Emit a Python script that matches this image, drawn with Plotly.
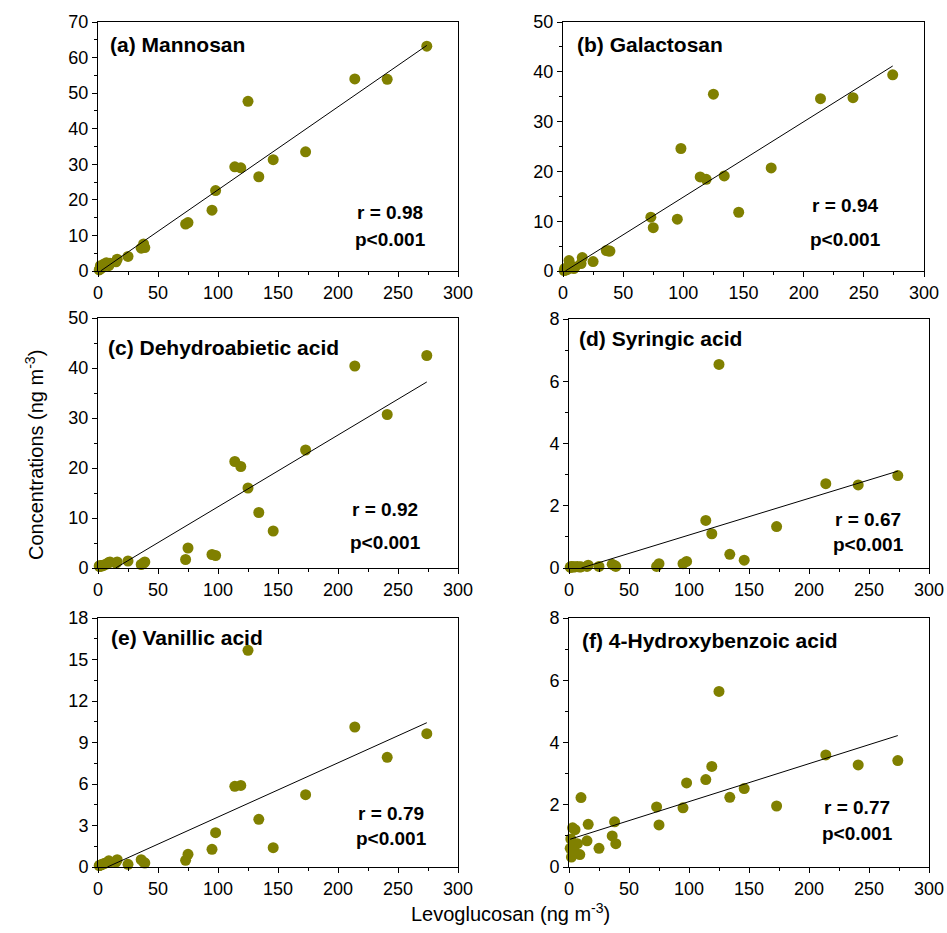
import plotly.graph_objects as go

# Shared x: Levoglucosan (ng m-3)
levoglucosan = [274, 241, 214, 173, 146, 134, 125, 119, 114, 98, 95, 75, 73, 39, 38, 36, 25, 16, 15, 10, 9, 7, 5, 4, 3, 2, 1.5, 1]

mannosan = [63.2, 53.9, 54.0, 33.5, 31.3, 26.5, 47.7, 29.0, 29.3, 22.6, 17.1, 13.6, 13.2, 6.6, 7.6, 6.4, 4.1, 3.3, 2.6, 2.2, 1.5, 2.3, 2.0, 1.2, 0.8, 1.5, 0.5, 0.3]
galactosan = [39.4, 34.8, 34.6, 20.7, 11.8, 19.1, 35.5, 18.4, 18.9, 24.6, 10.4, 8.7, 10.8, 4.0, 4.0, 4.1, 1.9, 2.7, 1.5, 0.8, 0.5, 1.0, 2.1, 0.4, 0.3, 0.2, 0.5, 0.1]
dehydroabietic = [42.5, 30.7, 40.4, 23.6, 7.4, 11.1, 16.0, 20.3, 21.3, 2.5, 2.7, 4.0, 1.7, 1.2, 1.0, 0.7, 1.4, 1.2, 1.0, 1.2, 1.1, 0.8, 0.6, 0.5, 0.4, 0.5, 0.3, 0.4]
syringic = [2.97, 2.67, 2.71, 1.33, 0.25, 0.44, 6.54, 1.10, 1.53, 0.21, 0.14, 0.14, 0.05, 0.05, 0.08, 0.12, 0.05, 0.09, 0.05, 0.04, 0.03, 0.05, 0.04, 0.03, 0.04, 0.05, 0.02, 0.03]
vanillic = [9.64, 7.93, 10.12, 5.23, 1.40, 3.45, 15.66, 5.90, 5.83, 2.48, 1.28, 0.92, 0.48, 0.29, 0.35, 0.53, 0.19, 0.53, 0.35, 0.36, 0.45, 0.30, 0.25, 0.20, 0.17, 0.15, 0.12, 0.10]
hydroxybenzoic = [3.42, 3.28, 3.60, 1.96, 2.52, 2.24, 5.64, 3.23, 2.81, 2.70, 1.90, 1.35, 1.93, 0.75, 1.45, 1.00, 0.60, 1.37, 0.84, 2.23, 0.40, 0.75, 1.20, 0.54, 1.26, 0.32, 0.90, 0.60]

panel_titles = ["(a) Mannosan", "(b) Galactosan", "(c) Dehydroabietic acid",
                "(d) Syringic acid", "(e) Vanillic acid", "(f) 4-Hydroxybenzoic acid"]
r_labels = ["r = 0.98", "r = 0.94", "r = 0.92", "r = 0.67", "r = 0.79", "r = 0.77"]
p_labels = ["p<0.001"] * 6
fit_slopes = [0.2333, 0.1513, 0.1435, 0.0118, 0.03918, 0.0122]
fit_intercepts = [-0.51, -0.29, -2.11, -0.1216, -0.306, 0.88]
y_max = [70, 50, 50, 8, 18, 8]
y_dtick = [10, 10, 10, 2, 3, 2]
x_ticks = [0, 50, 100, 150, 200, 250, 300]

series = [mannosan, galactosan, dehydroabietic, syringic, vanillic, hydroxybenzoic]

W, H = 947, 933
FONT = "Liberation Sans, Arial, sans-serif"


def fx(p):
    return p / W


def fy(p):
    return 1 - p / H


# panel boxes in reference pixels: (left, right, top, bottom)
boxes = [(98, 458, 22, 271), (563, 924, 22, 271),
         (98, 458, 318, 568), (569, 929, 319, 568),
         (98, 458, 618, 867), (569, 929, 618, 867)]
title_pos = [(108, 45), (575, 45), (106, 347), (577, 338), (109, 637), (580, 640)]
r_pos = [(390, 213), (845, 205), (385, 509), (868, 519), (391, 813), (857, 807)]
p_pos = [(390, 240), (845, 239), (385, 542), (868, 544), (391, 838), (857, 833)]

COLOR = "#808000"
fig = go.Figure()
annotations = []
layout_axes = {}
for i in range(6):
    n = i + 1
    xa = "x" if n == 1 else f"x{n}"
    ya = "y" if n == 1 else f"y{n}"
    fig.add_trace(go.Scatter(x=levoglucosan, y=series[i], mode="markers",
                             marker=dict(color=COLOR, size=11, line=dict(width=0)),
                             xaxis=xa, yaxis=ya, cliponaxis=False, showlegend=False))
    m, b = fit_slopes[i], fit_intercepts[i]
    x0 = max(min(levoglucosan), -b / m if m else 0)
    x1 = max(levoglucosan)
    fig.add_trace(go.Scatter(x=[x0, x1], y=[m * x0 + b, m * x1 + b], mode="lines",
                             line=dict(color="black", width=1),
                             xaxis=xa, yaxis=ya, showlegend=False))
    l, r, t, bt = boxes[i]
    axis_common = dict(showline=True, linecolor="black", linewidth=1, mirror=True,
                       ticks="outside", ticklen=5, tickwidth=1, tickcolor="black",
                       showgrid=False, zeroline=False, automargin=False,
                       tickfont=dict(family=FONT, size=18, color="black"))
    layout_axes["xaxis" if n == 1 else f"xaxis{n}"] = dict(
        domain=[fx(l), fx(r)], range=[0, 300], anchor=ya,
        tickvals=x_ticks, ticktext=[str(v) for v in x_ticks],
        minor=dict(dtick=25, ticks="outside", ticklen=3, tickcolor="black"),
        **axis_common)
    layout_axes["yaxis" if n == 1 else f"yaxis{n}"] = dict(
        domain=[fy(bt), fy(t)], range=[0, y_max[i]], anchor=xa,
        dtick=y_dtick[i], tick0=0,
        minor=dict(dtick=y_dtick[i] / 2, ticks="outside", ticklen=3, tickcolor="black"),
        **axis_common)
    tx, ty = title_pos[i]
    annotations.append(dict(x=fx(tx), y=fy(ty), xref="paper", yref="paper",
                            text=f"<b>{panel_titles[i]}</b>", showarrow=False,
                            xanchor="left", yanchor="middle",
                            font=dict(family=FONT, size=21, color="black")))
    for txt, (px, py) in ((r_labels[i], r_pos[i]), (p_labels[i], p_pos[i])):
        annotations.append(dict(x=fx(px), y=fy(py), xref="paper", yref="paper",
                                text=f"<b>{txt}</b>", showarrow=False,
                                xanchor="center", yanchor="middle",
                                font=dict(family=FONT, size=19, color="black")))

annotations.append(dict(x=fx(35), y=fy(455), xref="paper", yref="paper",
                        text="Concentrations (ng m<sup>-3</sup>)", showarrow=False, textangle=-90,
                        xanchor="center", yanchor="middle",
                        font=dict(family=FONT, size=20, color="black")))
annotations.append(dict(x=fx(510), y=fy(912), xref="paper", yref="paper",
                        text="Levoglucosan (ng m<sup>-3</sup>)", showarrow=False,
                        xanchor="center", yanchor="middle",
                        font=dict(family=FONT, size=20, color="black")))

fig.update_layout(width=W, height=H,
                  margin=dict(l=0, r=0, t=0, b=0, pad=0, autoexpand=False),
                  plot_bgcolor="white", paper_bgcolor="white",
                  annotations=annotations, **layout_axes)
fig.write_html("out.html", config={"displayModeBar": False},
               post_script="document.body.style.margin='0';document.body.style.overflow='hidden';")
